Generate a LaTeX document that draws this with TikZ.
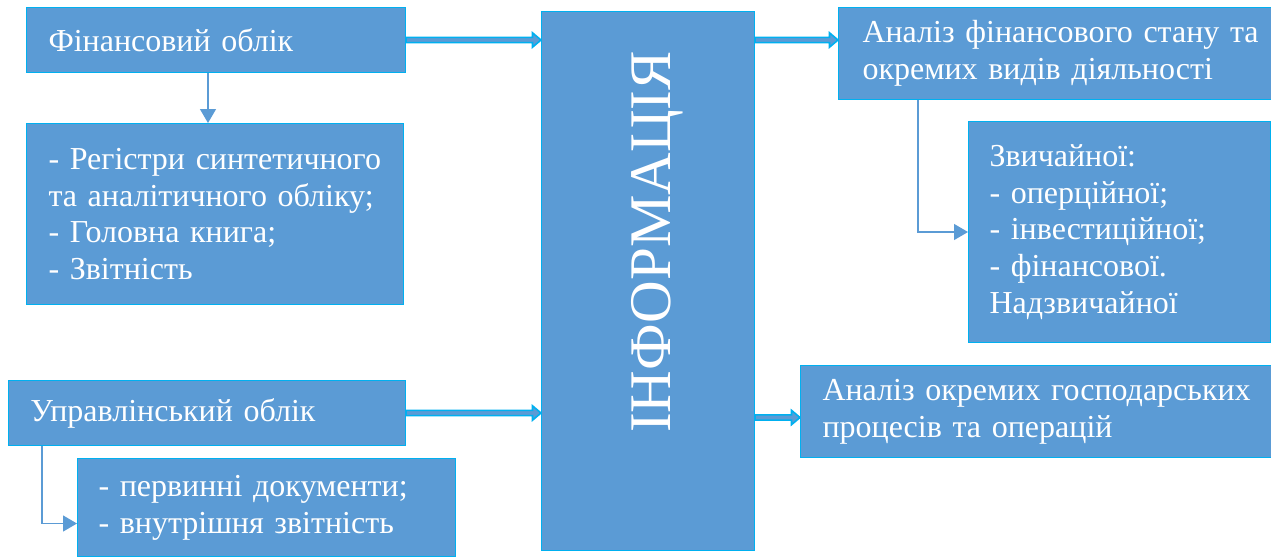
\documentclass[tikz,border=0pt]{standalone}
\usepackage{fontspec}
\setmainfont{Liberation Serif}
\newfontfamily\tnr{Liberation Serif}
\usetikzlibrary{arrows.meta,calc}
\definecolor{boxfill}{HTML}{5B9BD5}
\definecolor{boxline}{HTML}{00B0F0}
\newcommand\blockarr[2]{%
  \draw[blockarrow] ($(#1)+(0,-2.6)$) -- ($(#2)+(-8.5,-2.6)$) -- ($(#2)+(-8.5,-7.2)$) -- (#2)
    -- ($(#2)+(-8.5,7.2)$) -- ($(#2)+(-8.5,2.6)$) -- ($(#1)+(0,2.6)$) -- cycle;}
\begin{document}
\begin{tikzpicture}[x=1pt,y=-1pt,
  box/.style={draw=boxline, line width=1pt, fill=boxfill, text=white, anchor=north west,
    inner xsep=22pt, inner ysep=0pt, align=left, font=\tnr\fontsize{32}{36.8}\selectfont},
  blockarrow/.style={draw=boxline, fill=boxfill, line width=1.6pt, line join=miter},
  thinarrow/.style={draw=boxfill, line width=1.3pt, -{Triangle[length=14pt,width=16pt]}}]
\useasboundingbox (0,0) rectangle (1271,558);

\node[box, minimum width=379pt, minimum height=65pt, text width=335pt] (A) at (26,7) {Фінансовий облік};
\node[box, minimum width=377pt, minimum height=181pt, text width=333pt] (B) at (26,123)
  {\makebox[335pt][s]{- Регістри синтетичного}\\та аналітичного обліку;\\- Головна книга;\\- Звітність};
\node[box, minimum width=397pt, minimum height=65pt, text width=353pt] (C) at (8,380) {Управлінський облік};
\node[box, inner xsep=21pt, minimum width=378pt, minimum height=98pt, text width=336pt] (D) at (77,458)
  {- первинні документи;\\- внутрішня звітність};
\node[draw=boxline, line width=1pt, fill=boxfill, anchor=north west, minimum width=213pt,
  minimum height=539pt, inner sep=0pt] (E) at (541,11) {};
\node[rotate=90, anchor=base, text=white, inner sep=0pt, font=\tnr\fontsize{59}{64}\selectfont] (Einfo) at (670,242) {ІНФОРМАЦІЯ};
\node[box, inner xsep=24pt, minimum width=433pt, minimum height=92pt, text width=385pt] (F) at (838,7)
  {\makebox[391pt][s]{Аналіз фінансового стану та}\\окремих видів діяльності};
\node[box, inner xsep=21pt, minimum width=302pt, minimum height=221pt, text width=260pt] (G) at (968,121)
  {Звичайної:\\- оперційної;\\- інвестиційної;\\- фінансової.\\Надзвичайної};
\node[box, minimum width=471pt, minimum height=92pt, text width=427pt] (H) at (800,365)
  {\makebox[431pt][s]{Аналіз окремих господарських}\\процесів та операцій};

% block arrows
\coordinate (s1) at (A.east);
\coordinate (t1) at (A.east -| E.west);
\blockarr{s1}{t1}
\coordinate (s2) at (C.east);
\coordinate (t2) at (C.east -| E.west);
\blockarr{s2}{t2}
\coordinate (s3) at (E.east |- A.east);
\coordinate (t3) at (A.east -| F.west);
\blockarr{s3}{t3}
\coordinate (t4) at ($(H.west)+(0,6)$);
\coordinate (s4) at (E.east |- t4);
\blockarr{s4}{t4}

% thin arrows
\coordinate (ab) at ($(A.south west)+(182,0)$);
\draw[thinarrow] (ab) -- (ab |- B.north);
\coordinate (cd) at ($(C.south west)+(34,0)$);
\coordinate (din) at ($(D.west)+(0,16)$);
\draw[thinarrow] (cd) |- (din);
\coordinate (fg) at ($(F.south west)+(80,0)$);
\draw[thinarrow] (fg) |- (G.west);
\end{tikzpicture}
\end{document}
